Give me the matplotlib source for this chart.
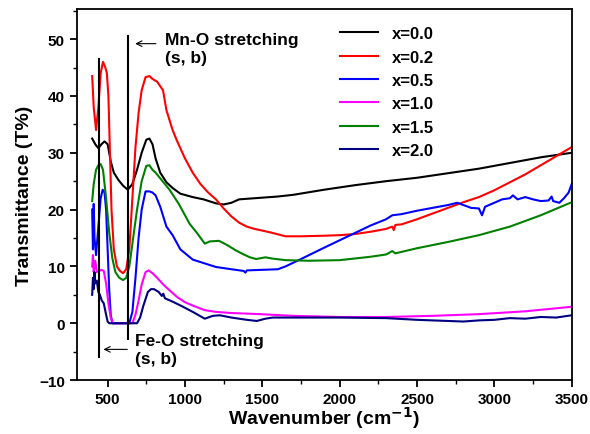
import matplotlib
matplotlib.use("Agg")
import matplotlib.pyplot as plt
from matplotlib.ticker import MultipleLocator

plt.rcParams['font.family'] = ['Liberation Sans', 'DejaVu Sans']
plt.rcParams['font.weight'] = 'bold'

# x=0.0
wn_00 = [400, 420, 440, 460, 480, 500, 520, 540, 570, 600, 630, 660, 690, 720, 750, 770, 790, 810,
         840, 880, 920, 970, 1050, 1120, 1200, 1250, 1300, 1350, 1450, 1600, 1700, 1900, 2100, 2300,
         2500, 2700, 2900, 3100, 3300, 3500]
t_00 = [32.5, 31.5, 30.8, 31.5, 32, 31.5, 28.5, 26.5, 25.2, 24.2, 23.5, 24.5, 27, 30, 32.3, 32.5, 31.5, 29,
        26.5, 24.8, 23.8, 22.8, 22.2, 21.8, 21.1, 20.9, 21.2, 21.8, 22, 22.3, 22.6, 23.5, 24.3, 25,
        25.6, 26.4, 27.2, 28.2, 29.2, 30]

# x=0.2
wn_02 = [400, 410, 425, 440, 455, 470, 485, 495, 505, 515, 525, 540, 560, 580, 600, 620, 640, 660, 680,
         700, 720, 745, 770, 790, 820, 858, 880, 920, 950, 1000, 1050, 1100, 1150, 1200, 1250, 1300,
         1350, 1400, 1450, 1550, 1650, 1750, 1900, 2000, 2100, 2200, 2300, 2340, 2350, 2360, 2400,
         2500, 2600, 2700, 2800, 2900, 3000, 3100, 3200, 3300, 3400, 3500]
t_02 = [43.5, 38, 34, 38, 44, 46, 45, 44, 40, 30, 20, 13, 10, 9.2, 8.8, 9.5, 13, 22, 31,
        37, 41, 43.3, 43.5, 43, 42.5, 41, 37.5, 34, 32, 29, 26.5, 24.5, 23, 21.8, 20.2, 18.8,
        17.7, 17.0, 16.6, 16, 15.3, 15.3, 15.4, 15.5, 15.7, 16.1, 16.6, 17, 16.4, 17.3, 17.4,
        18.3, 19.3, 20.3, 21.3, 22.2, 23.4, 24.8, 26.2, 27.8, 29.4, 31]

# x=0.5
wn_05 = [400, 405, 410, 415, 425, 440, 455, 468, 480, 490, 500, 510, 520, 530, 640, 660, 680, 700, 720,
         745, 770, 790, 810, 840, 880, 920, 970, 1050, 1200, 1300, 1380, 1390, 1400, 1500, 1600, 1650,
         1750, 1900, 2000, 2100, 2200, 2300, 2340, 2400, 2500, 2600, 2700, 2760, 2800, 2850, 2900,
         2920, 2940, 3000, 3050, 3100, 3120, 3150, 3200, 3250, 3300, 3350, 3370, 3380, 3420, 3450,
         3480, 3500]
t_05 = [20, 13, 21, 15, 12, 17, 22, 23.5, 23, 20, 13, 6, 1.5, 0, 0, 2, 8, 15, 20,
        23.2, 23.2, 23, 22.5, 20.5, 17, 15.5, 13, 11.2, 9.9, 9.5, 9.2, 8.9, 9.3, 9.4, 9.5, 10,
        11.3, 13.3, 14.6, 15.9, 17.2, 18.3, 19, 19.2, 19.8, 20.3, 20.8, 21.2, 20.8, 20.3, 20.2,
        19, 20.5, 21.2, 21.8, 22, 22.5, 21.8, 22.2, 21.8, 21.5, 21.6, 22.3, 21.5, 21.2, 22,
        23, 24.5]

# x=1.0
wn_10 = [400, 405, 410, 420, 430, 445, 460, 475, 490, 505, 520, 535, 660, 680, 700, 720, 745, 765, 790,
         820, 860, 900, 950, 1000, 1060, 1128, 1200, 1300, 1484, 1700, 2000, 2300, 2600, 2900, 3200,
         3500]
t_10 = [10, 12, 9, 11, 9, 9.2, 9.4, 9.2, 7, 3.5, 1, 0, 0, 1.5, 4, 6.8, 9, 9.3, 8.8,
        8, 6.8, 5.8, 4.6, 3.7, 3, 2.3, 2, 1.8, 1.6, 1.3, 1.1, 1.1, 1.3, 1.6, 2.1,
        2.9]

# x=1.5
wn_15 = [400, 410, 425, 440, 455, 470, 490, 510, 530, 550, 575, 600, 620, 640, 660, 690, 720, 750, 770,
         790, 810, 840, 900, 960, 1030, 1080, 1128, 1160, 1220, 1270, 1330, 1380, 1420, 1460, 1520,
         1560, 1650, 1800, 2000, 2200, 2300, 2340, 2360, 2500, 2700, 2900, 3100, 3300, 3500]
t_15 = [21.5, 24.5, 27, 27.8, 28, 27, 22, 16, 11.5, 9, 8, 7.6, 8, 10, 14, 20, 25, 27.7, 27.8,
        27, 26.5, 25.5, 23.5, 21, 17.5, 15.8, 14, 14.4, 14.5, 13.8, 12.8, 12.1, 11.6, 11.3, 11.6,
        11.4, 11.1, 11, 11.1, 11.7, 12.1, 12.7, 12.3, 13.2, 14.3, 15.5, 17, 19, 21.3]

# x=2.0
wn_20 = [400, 405, 410, 415, 420, 430, 440, 450, 462, 475, 490, 500, 510, 690, 710, 730, 760, 780, 800,
         830, 850, 860, 870, 920, 980, 1050, 1128, 1180, 1225, 1300, 1400, 1464, 1520, 1568, 1700,
         2000, 2300, 2500, 2700, 2800, 2900, 3000, 3100, 3200, 3300, 3400, 3500]
t_20 = [5, 8, 6, 9, 7, 7.5, 5.5, 5, 4, 3.5, 1.5, 0.3, 0, 0, 1, 3, 5.5, 6, 6,
        5.5, 4.8, 5.2, 4.4, 3.8, 3, 2, 0.8, 1.3, 1.4, 1, 0.6, 0.4, 0.8, 1, 1,
        1, 0.9, 0.6, 0.4, 0.3, 0.5, 0.6, 0.9, 0.8, 1.1, 1, 1.4]

labels = ['x=0.0', 'x=0.2', 'x=0.5', 'x=1.0', 'x=1.5', 'x=2.0']
colors = ['black', 'red', 'blue', 'magenta', 'green', 'navy']
series = [(wn_00, t_00), (wn_02, t_02), (wn_05, t_05), (wn_10, t_10), (wn_15, t_15), (wn_20, t_20)]

fig = plt.figure(figsize=(5.9, 4.35), dpi=100)
ax = fig.add_axes([0.130, 0.124, 0.839, 0.853])

for (wn, t), lab, c in zip(series, labels, colors):
    ax.plot(wn, t, color=c, lw=1.5, label=lab)

# band markers
ax.plot([442, 442], [-6, 46.5], color='black', lw=1.5)
ax.plot([630, 630], [-2.8, 50.6], color='black', lw=1.5)
ax.annotate('', xy=(660, 49.2), xytext=(830, 49.2),
            arrowprops=dict(arrowstyle='->', color='black', lw=0.8))
ax.text(870, 51.3, 'Mn-O stretching\n(s, b)', fontsize=12.5, fontweight='bold',
        va='top', ha='left', linespacing=1.25)
ax.annotate('', xy=(455, -4.6), xytext=(645, -4.6),
            arrowprops=dict(arrowstyle='->', color='black', lw=0.8))
ax.text(675, -1.7, 'Fe-O stretching\n(s, b)', fontsize=12.5, fontweight='bold',
        va='top', ha='left', linespacing=1.25)

ax.set_xlim(300, 3500)
ax.set_ylim(-10, 55.3)
ax.xaxis.set_major_locator(MultipleLocator(500))
ax.xaxis.set_minor_locator(MultipleLocator(250))
ax.yaxis.set_major_locator(MultipleLocator(10))
ax.yaxis.set_minor_locator(MultipleLocator(5))
ax.tick_params(which='major', direction='out', length=5, width=1.3, labelsize=11)
ax.tick_params(which='minor', direction='out', length=3, width=1.0)
for s in ax.spines.values():
    s.set_linewidth(1.3)
for lbl in ax.get_xticklabels() + ax.get_yticklabels():
    lbl.set_fontweight('bold')

ax.set_xlabel('Wavenumber (cm$^{\\mathbf{-1}}$)', fontsize=14, fontweight='bold', labelpad=-1)
ax.set_ylabel('Transmittance (T%)', fontsize=14, fontweight='bold')

leg = ax.legend(loc='upper right', frameon=False, fontsize=12, handlelength=2.3,
                borderaxespad=0.3, labelspacing=0.5, bbox_to_anchor=(0.745, 0.985))
for txt in leg.get_texts():
    txt.set_fontweight('bold')

fig.savefig('out.png', dpi=100)
